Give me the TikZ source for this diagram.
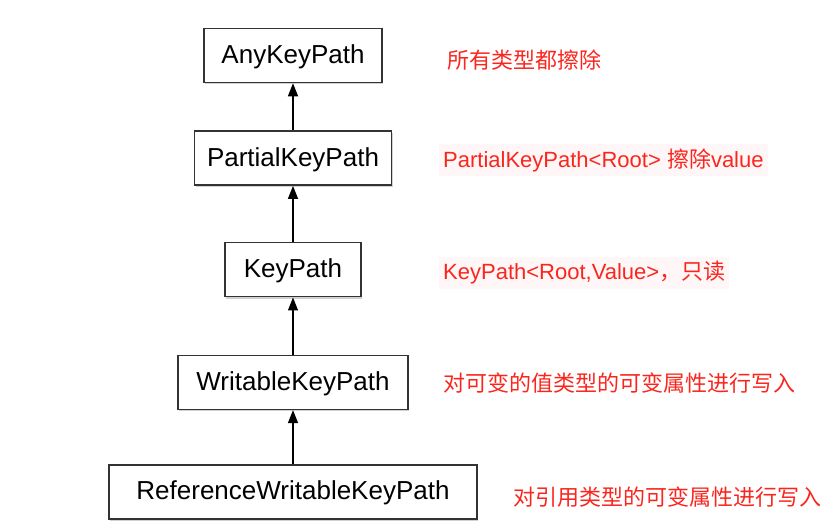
\documentclass[tikz,border=0pt]{standalone}
\usepackage{fontspec}
\setmainfont{Liberation Sans}
\newfontfamily\cjk{Noto Sans CJK SC}
\usetikzlibrary{arrows.meta, positioning, shadows}
\definecolor{notered}{RGB}{250,38,30}
\definecolor{notebg}{RGB}{255,247,247}
\tikzset{
    block/.style={rectangle, draw=black!80, line width=1.6pt, fill=white, minimum height=54pt, text height=16pt, text depth=0pt, font=\fontsize{26}{30}\selectfont, drop shadow={shadow xshift=1.2pt, shadow yshift=-2pt, opacity=0.3, fill=black!60}},
    inherit/.style={line width=1.3pt, -{Triangle[width=10pt, length=13pt]}},
    note/.style={anchor=west, text=notered, font=\fontsize{22}{26}\selectfont, inner sep=2pt},
    marked/.style={fill=notebg, inner sep=4pt}
}

\begin{document}
\begin{tikzpicture}
            \useasboundingbox (0,0) rectangle (838pt,520pt);
            \node[block, minimum width=178pt] (anykey) at (293pt,464.5pt) {AnyKeyPath};
            \node[block, minimum width=197pt, below=47pt of anykey] (partialkey) {PartialKeyPath};
            \node[block, minimum width=136pt, below=56pt of partialkey] (keypath) {KeyPath};
            \node[block, minimum width=230pt, below=57pt of keypath] (writablekey) {WritableKeyPath};
            \node[block, minimum width=368pt, below=54pt of writablekey] (refwritablekey) {ReferenceWritableKeyPath};

            \draw[inherit] (partialkey) -- (anykey);
            \draw[inherit] (keypath) -- (partialkey);
            \draw[inherit] (writablekey) -- (keypath);
            \draw[inherit] (refwritablekey) -- (writablekey);

            \node[note] (anynote) at (445pt,460pt) {\cjk 所有类型都擦除};
            \node[note, marked] (partialnote) at (439pt,360pt) {PartialKeyPath<Root> {\cjk 擦除}value};
            \node[note, marked] (keynote) at (439pt,247pt) {KeyPath<Root,Value>{\cjk ，只读}};
            \node[note] (writablenote) at (441pt,137pt) {\cjk 对可变的值类型的可变属性进行写入};
            \node[note] (refwritablenote) at (511pt,23pt) {\cjk 对引用类型的可变属性进行写入};
        \end{tikzpicture}
\end{document}
